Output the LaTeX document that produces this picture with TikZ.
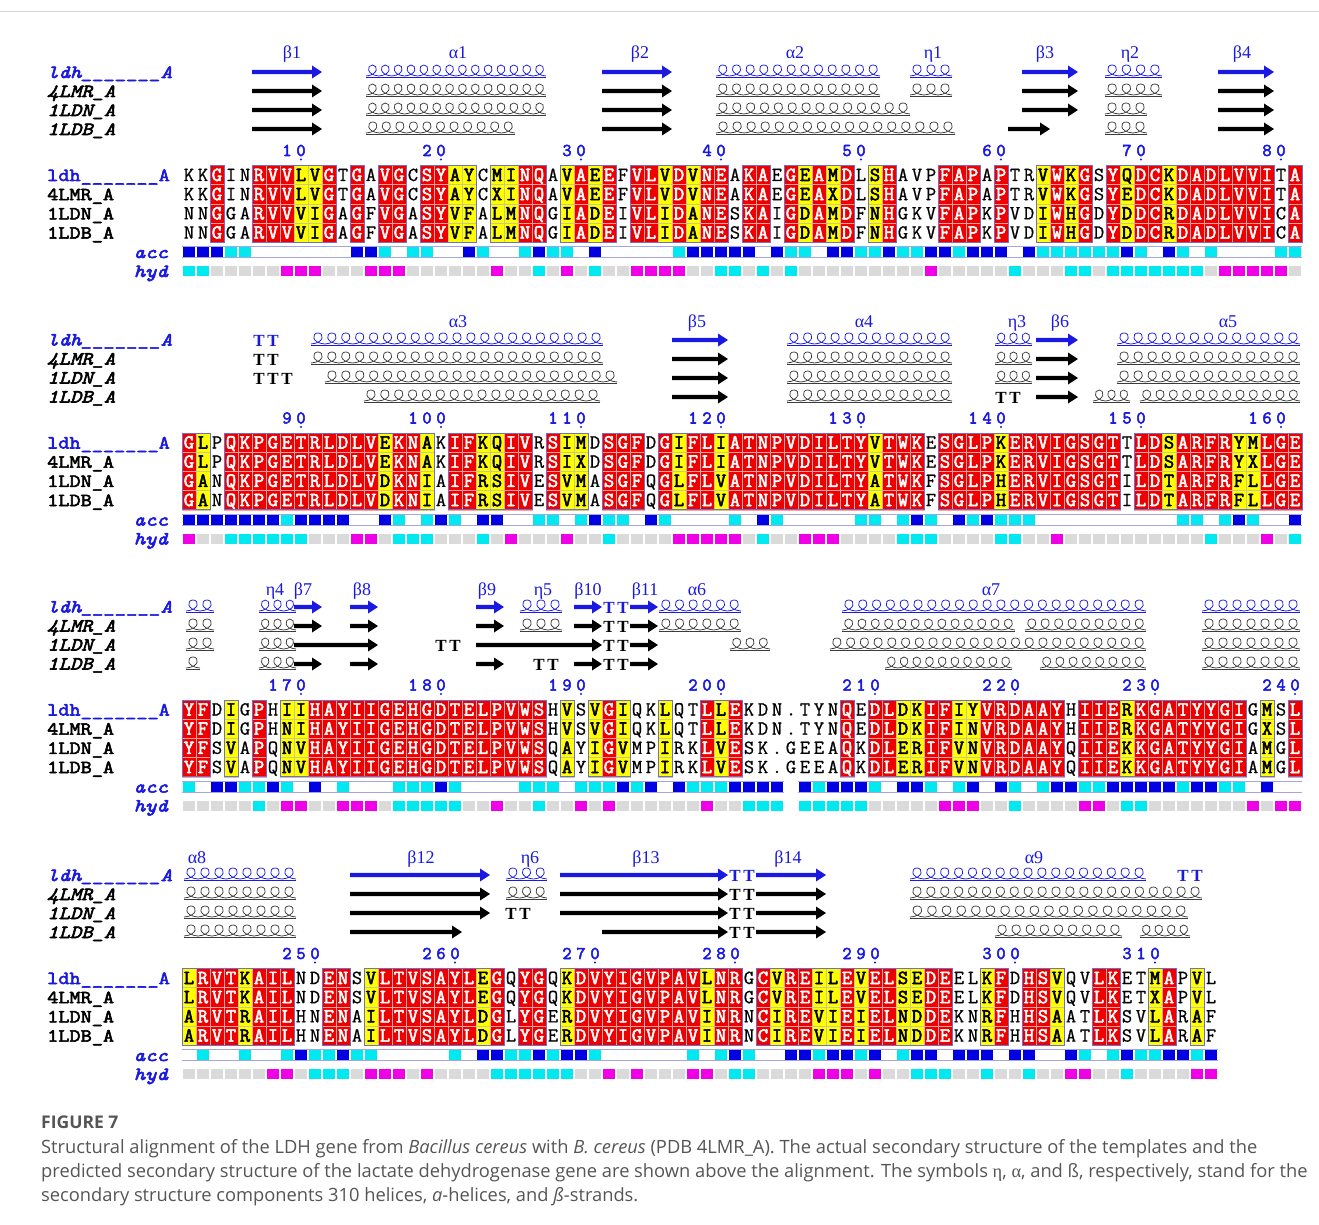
\documentclass[tikz,border=0pt]{standalone}
\usepackage{fontspec}
\setmainfont{Liberation Serif}
\newfontfamily\resfont{Latin Modern Mono}[FakeBold=0.8]
\newfontfamily\resbold{Latin Modern Mono}[FakeBold=2.8]
\newfontfamily\namefont{Latin Modern Mono}[FakeBold=3,FakeStretch=1.17]
\newfontfamily\capfont{Open Sans}
\newfontfamily\grfont{Liberation Serif}
\definecolor{espred}{RGB}{238,0,0}
\definecolor{espredline}{RGB}{255,160,160}
\definecolor{espyellow}{RGB}{255,255,0}
\definecolor{espyline}{RGB}{200,200,150}
\definecolor{espframe}{RGB}{110,110,205}
\definecolor{espblue}{RGB}{25,25,225}
\definecolor{accdark}{RGB}{0,0,225}
\definecolor{acccyan}{RGB}{0,232,240}
\definecolor{hydmag}{RGB}{240,0,230}
\definecolor{hydgray}{RGB}{218,218,218}
\definecolor{accline}{RGB}{165,165,228}
\definecolor{capgray}{RGB}{85,85,85}
\definecolor{ssk}{RGB}{0,0,0}
\definecolor{sshel}{RGB}{60,60,60}
\definecolor{topline}{RGB}{212,212,212}
\tikzset{
  resR/.style={anchor=base,inner sep=0pt,text=white,font=\resbold\fontsize{20}{20}\selectfont},
  resY/.style={anchor=base,inner sep=0pt,text=black,font=\resbold\fontsize{20}{20}\selectfont},
  resW/.style={anchor=base,inner sep=0pt,text=black,font=\resfont\fontsize{20}{20}\selectfont},
  numf/.style={anchor=base,inner sep=0pt,text=espblue,font=\resbold\fontsize{18}{18}\selectfont},
  namef/.style={anchor=base west,inner sep=0pt,text=black,font=\namefont\fontsize{18.5}{18.5}\selectfont},
  namei/.style={anchor=base west,inner sep=0pt,text=black,font=\namefont\itshape\fontsize{18.5}{18.5}\selectfont},
  rowlab/.style={anchor=base east,inner sep=0pt,text=espblue,font=\namefont\itshape\fontsize{18.5}{18.5}\selectfont},
  sslab/.style={anchor=base,inner sep=0pt,text=espblue,font=\grfont\fontsize{18}{18}\selectfont},
  turnf/.style={anchor=base,inner sep=0pt,font=\grfont\bfseries\fontsize{17}{17}\selectfont},
  runframe/.style={draw=espframe,line width=0.7pt},
  accl/.style={draw=accline,line width=0.6pt},
  capf/.style={anchor=base west,inner sep=0pt,text=capgray,font=\capfont\fontsize{18.3}{18.3}\selectfont}
}
\makeatletter
\newcount\colc \newcount\runst \newcount\nid
\def\chr{r}\def\chy{y}\def\chb{b}\def\chc{c}\def\chm{m}\def\chg{g}\def\chgap{-}
\newcommand\nnode{\global\advance\nid by 1 \edef\tmpn{\noexpand\node(n\the\nid)}\tmpn}
\newcommand\setmap[1]{\colc=0 \@tfor\mc:=#1\do{\advance\colc by 1 \expandafter\let\csname cls@\the\colc\endcsname\mc}}
\newcommand\drawmap[2]{%
  \colc=0 \runst=0
  \@tfor\mc:=#1\do{%
    \advance\colc by 1
    \edef\xl{\the\numexpr168+14*\colc\relax}%
    \edef\xr{\the\numexpr182+14*\colc\relax}%
    \ifx\mc\chr \def\cfill{espred}\def\cdraw{espredline}%
    \else\ifx\mc\chy \def\cfill{espyellow}\def\cdraw{espyline}%
    \else \def\cfill{}\fi\fi
    \ifx\cfill\empty
      \ifnum\runst>0
        \edef\fa{\the\numexpr168+14*\runst\relax}%
        \edef\fb{\the\numexpr168+14*\colc\relax}%
        \draw[runframe] ({\fa},{#2-9.6}) rectangle ({\fb},{#2+67.2});%
        \runst=0
      \fi
    \else
      \foreach \k in {0,1,2,3}{\filldraw[fill=\cfill,draw=\cdraw,line width=0.4pt] ({\xl},{#2+19.2*\k-9.6}) rectangle ({\xr},{#2+19.2*\k+9.6});}%
      \ifnum\runst=0 \runst=\colc\fi
    \fi
  }%
  \ifnum\runst>0
    \edef\fa{\the\numexpr168+14*\runst\relax}%
    \edef\fb{\the\numexpr182+14*\colc\relax}%
    \draw[runframe] ({\fa},{#2-9.6}) rectangle ({\fb},{#2+67.2});%
  \fi
}
\newcommand\seqrow[2]{%
  \colc=0
  \@tfor\rch:=#1\do{%
    \advance\colc by 1
    \expandafter\let\expandafter\rcl\csname cls@\the\colc\endcsname
    \edef\xc{\the\numexpr175+14*\colc\relax}%
    \ifx\rcl\chr\def\rst{resR}\else\ifx\rcl\chy\def\rst{resY}\else\def\rst{resW}\fi\fi
    \global\advance\nid by 1
    \edef\tmpn{\noexpand\node(n\the\nid)[\rst] at ({\xc},{#2+6})}%
    \tmpn{\rch};%
  }%
}
\newcommand\accrow[2]{%
  \colc=0
  \@tfor\mc:=#1\do{%
    \advance\colc by 1
    \edef\xl{\the\numexpr168+14*\colc\relax}\edef\xr{\the\numexpr182+14*\colc\relax}%
    \ifx\mc\chgap\else
      \ifx\mc\chb \fill[accdark] ({\xl+0.6},{#2-5.5}) rectangle ({\xr-0.6},{#2+5.5});\fi
      \ifx\mc\chc \fill[acccyan] ({\xl+0.6},{#2-5.5}) rectangle ({\xr-0.6},{#2+5.5});\fi
      \draw[accl] ({\xl},{#2-5.5}) -- ({\xr},{#2-5.5}) ({\xl},{#2+5.5}) -- ({\xr},{#2+5.5});
    \fi
  }%
}
\newcommand\hydrow[2]{%
  \colc=0
  \@tfor\mc:=#1\do{%
    \advance\colc by 1
    \edef\xl{\the\numexpr168+14*\colc\relax}\edef\xr{\the\numexpr182+14*\colc\relax}%
    \ifx\mc\chgap\else
      \ifx\mc\chm\def\hcol{hydmag}\else\ifx\mc\chc\def\hcol{acccyan}\else\def\hcol{hydgray}\fi\fi
      \fill[fill=\hcol] ({\xl+0.8},{#2-5}) rectangle ({\xr-0.8},{#2+5});
    \fi
  }%
}
\newcommand\numl[3]{%
  \colc=0 \@tfor\mc:=#1\do{\advance\colc by 1}%
  \runst=\numexpr#2-\colc\relax
  \@tfor\mc:=#1\do{\advance\runst by 1 \edef\xc{\the\numexpr175+14*\runst\relax}\nnode[numf] at ({\xc},{#3+5}) {\mc};}%
  \edef\xc{\the\numexpr175+14*#2\relax}\fill[espblue] ({\xc},{#3+8.5}) circle (1.1);
}
\newcommand\sarr[4]{%
  \edef\axa{\the\numexpr168+14*#1\relax}\edef\axb{\the\numexpr182+14*#2\relax}%
  \fill[#4] ({\axa},{#3-2.2}) -- ({\axb-10},{#3-2.2}) -- ({\axb-10},{#3-6.5}) -- ({\axb},{#3}) -- ({\axb-10},{#3+6.5}) -- ({\axb-10},{#3+2.2}) -- ({\axa},{#3+2.2}) -- cycle;
}
\newcommand\shel[5]{%
  \pgfmathsetmacro\hw{(#2-#1)/#3}%
  \foreach \k in {1,...,#3}{%
    \pgfmathsetmacro\hc{#1+(\k-0.5)*\hw}%
    \draw[#5,line width=0.75pt] ({\hc-0.5*\hw},{#4+4}) .. controls ({\hc+0.5*\hw},{#4+3}) and ({\hc+0.45*\hw},{#4-7}) .. ({\hc},{#4-7}) .. controls ({\hc-0.45*\hw},{#4-7}) and ({\hc-0.5*\hw},{#4+3}) .. ({\hc+0.5*\hw},{#4+4});
  }%
  \draw[#5,line width=0.5pt] ({#1},{#4+5.5}) -- ({#2},{#4+5.5});
}
\newcommand\stt[3]{\edef\xc{\the\numexpr175+14*#1\relax}\nnode[turnf,text=#3] at ({\xc},{#2+6}) {T};}
\newcommand\names[1]{%
  \nnode[namei,text=espblue] at (47,{#1-103+6}) {ldh\_\_\_\_\_\_\_A};
  \nnode[namei] at (47,{#1-84+6}) {4LMR\_A};
  \nnode[namei] at (47,{#1-65+6}) {1LDN\_A};
  \nnode[namei] at (47,{#1-46+6}) {1LDB\_A};
  \nnode[namef,text=espblue] at (47,{#1+6}) {ldh\_\_\_\_\_\_\_A};
  \nnode[namef] at (47,{#1+19.2+6}) {4LMR\_A};
  \nnode[namef] at (47,{#1+38.4+6}) {1LDN\_A};
  \nnode[namef] at (47,{#1+57.6+6}) {1LDB\_A};
  \nnode[rowlab] at (168,{#1+77+6}) {acc};
  \nnode[rowlab] at (168,{#1+96+6}) {hyd};
}
\newcommand\block[8]{%
  \setmap{#2}\drawmap{#2}{#1}%
  \seqrow{#3}{#1}\seqrow{#4}{#1+19.2}\seqrow{#5}{#1+38.4}\seqrow{#6}{#1+57.6}%
  \accrow{#7}{#1+77}\hydrow{#8}{#1+96}%
  \names{#1}%
}
\makeatother
\begin{document}
\begin{tikzpicture}[x=1pt,y=-1pt]
\fill[white] (0,0) rectangle (1319,1225);
\useasboundingbox (0,0) rectangle (1319,1225);
\draw[topline,line width=1pt] (0,12) -- (1319,12);

% ---------------- Block 1
\block{175}{..r..rrryy r.r.rr.rry y.yyrr.yry r.rryryrr. rr.ryryr.y r...rrr.r. .yryr.ryrr yrrrrrrr.r}
{KKGINRVVLV GTGAVGCSYA YCMINQAVAE EFVLVDVNEA KAEGEAMDLS HAVPFAPAPT RVWKGSYQDC KDADLVVITA}
{KKGINRVVLV GTGAVGCSYA YCXINQAVAE EFVLVDVNEA KAEGEAXDLS HAVPFAPAPT RVWKGSYEDC KDADLVVITA}
{NNGGARVVVI GAGFVGASYV FALMNQGIAD EIVLIDANES KAIGDAMDFN HGKVFAPKPV DIWHGDYDDC RDADLVVICA}
{NNGGARVVVI GAGFVGASYV FALMNQGIAD EIVLIDANES KAIGDAMDFN HGKVFAPKPV DIWHGDYDDC RDADLVVICA}
{bbbcc..... ..bbc.cc.. bc..cbcc.b .....cbbbb b.bcc.bbcc bccbbcbbb. bccccccbc. bc.c....cc}
{ccgggggmmm gggmmmgggg ggmggcgmgc ggmmmmggcc gcgcgggggg gggmgggggc gggccgcccc cccgmmmmmg}
\numl{10}{9}{151}\numl{20}{19}{151}\numl{30}{29}{151}\numl{40}{39}{151}
\numl{50}{49}{151}\numl{60}{59}{151}\numl{70}{69}{151}\numl{80}{79}{151}
\nnode[sslab] at (292,59) {β1};\nnode[sslab] at (458,59) {α1};\nnode[sslab] at (640,59) {β2};
\nnode[sslab] at (795,59) {α2};\nnode[sslab] at (933,59) {η1};\nnode[sslab] at (1045,59) {β3};
\nnode[sslab] at (1130,59) {η2};\nnode[sslab] at (1242,59) {β4};
\sarr{6}{10}{72}{espblue}\shel{366}{546}{14}{72}{espblue}\sarr{31}{35}{72}{espblue}
\shel{716}{880}{12}{72}{espblue}\shel{910}{952}{3}{72}{espblue}\sarr{61}{64}{72}{espblue}
\shel{1105}{1162}{4}{72}{espblue}\sarr{75}{78}{72}{espblue}
\sarr{6}{10}{91}{ssk}\shel{366}{546}{14}{91}{sshel}\sarr{31}{35}{91}{ssk}
\shel{716}{880}{12}{91}{sshel}\shel{910}{952}{3}{91}{sshel}\sarr{61}{64}{91}{ssk}
\shel{1105}{1162}{4}{91}{sshel}\sarr{75}{78}{91}{ssk}
\sarr{6}{10}{110}{ssk}\shel{366}{546}{14}{110}{sshel}\sarr{31}{35}{110}{ssk}
\shel{716}{910}{14}{110}{sshel}\sarr{61}{64}{110}{ssk}
\shel{1105}{1147}{3}{110}{sshel}\sarr{75}{78}{110}{ssk}
\sarr{6}{10}{129}{ssk}\shel{366}{515}{11}{129}{sshel}\sarr{31}{35}{129}{ssk}
\shel{716}{955}{17}{129}{sshel}\sarr{60}{62}{129}{ssk}
\shel{1105}{1147}{3}{129}{sshel}\sarr{75}{78}{129}{ssk}

% ---------------- Block 2
\block{442.5}{ry.rrrrrrr rrrryrry.r ryyrr.ryy. rrr.ryrryr rrrrrrrrry rrr.rrrryr rrrrrrr.rr yrrrryyrrr}
{GLPQKPGETR LDLVEKNAKI FKQIVRSIMD SGFDGIFLIA TNPVDILTYV TWKESGLPKE RVIGSGTTLD SARFRYMLGE}
{GLPQKPGETR LDLVEKNAKI FKQIVRSIXD SGFDGIFLIA TNPVDILTYV TWKESGLPKE RVIGSGTTLD SARFRYXLGE}
{GANQKPGETR LDLVDKNIAI FRSIVESVMA SGFQGLFLVA TNPVDILTYA TWKFSGLPHE RVIGSGTILD TARFRFLLGE}
{GANQKPGETR LDLVDKNIAI FRSIVESVMA SGFQGLFLVA TNPVDILTYA TWKFSGLPHE RVIGSGTILD TARFRFLLGE}
{bbbbbbbcbb bb..bc.cbc .bb..cc.cb cc.bc....c .bc.....cc .cbc.bcbcc c......... .cc.cbc..b}
{mggccccccg ggmmgcccgg gcgmgggmgg cggggmmmmm gcggmmmggg gcccggggcc ggmggggggg gggcgggmgc}
\numl{90}{9}{418.5}\numl{100}{19}{418.5}\numl{110}{29}{418.5}\numl{120}{39}{418.5}
\numl{130}{49}{418.5}\numl{140}{59}{418.5}\numl{150}{69}{418.5}\numl{160}{79}{418.5}
\nnode[sslab] at (458,327) {α3};\nnode[sslab] at (697,327) {β5};\nnode[sslab] at (864,327) {α4};
\nnode[sslab] at (1017,327) {η3};\nnode[sslab] at (1060,327) {β6};\nnode[sslab] at (1228,327) {α5};
\stt{6}{340}{espblue}\stt{7}{340}{espblue}\shel{311}{603}{21}{340}{espblue}\sarr{36}{39}{340}{espblue}
\shel{787}{952}{12}{340}{espblue}\shel{995}{1032}{3}{340}{espblue}\sarr{62}{64}{340}{espblue}
\shel{1117}{1300}{13}{340}{espblue}
\stt{6}{359}{ssk}\stt{7}{359}{ssk}\shel{311}{603}{21}{359}{sshel}\sarr{36}{39}{359}{ssk}
\shel{787}{952}{12}{359}{sshel}\shel{995}{1032}{3}{359}{sshel}\sarr{62}{64}{359}{ssk}
\shel{1117}{1300}{13}{359}{sshel}
\stt{6}{378}{ssk}\stt{7}{378}{ssk}\stt{8}{378}{ssk}\shel{325}{617}{21}{378}{sshel}\sarr{36}{39}{378}{ssk}
\shel{787}{952}{12}{378}{sshel}\shel{995}{1032}{3}{378}{sshel}\sarr{62}{64}{378}{ssk}
\shel{1117}{1300}{13}{378}{sshel}
\shel{364}{600}{17}{397}{sshel}\sarr{36}{39}{397}{ssk}\shel{787}{952}{12}{397}{sshel}
\stt{59}{397}{ssk}\stt{60}{397}{ssk}\sarr{62}{64}{397}{ssk}
\shel{1093}{1130}{3}{397}{sshel}\shel{1140}{1300}{12}{397}{sshel}

% ---------------- Block 3
\block{709.5}{rr.y.r.yyr rrrrrrrrrr rrrrrr.y.y ry..y..ryr .......r.r ryyrryyrrr rrr.rrryrr rrrrrr.y.r}
{YFDIGPHIIH AYIIGEHGDT ELPVWSHVSV GIQKLQTLLE KDN.TYNQED LDKIFIYVRD AAYHIIERKG ATYYGIGMSL}
{YFDIGPHNIH AYIIGEHGDT ELPVWSHVSV GIQKLQTLLE KDN.TYNQED LDKIFINVRD AAYHIIERKG ATYYGIGXSL}
{YFSVAPQNVH AYIIGEHGDT ELPVWSQAYI GVMPIRKLVE SK.GEEAQKD LERIFVNVRD AAYQIIEKKG ATYYGIAMGL}
{YFSVAPQNVH AYIIGEHGDT ELPVWSQAYI GVMPIRKLVE SK.GEEAQKD LERIFVNVRD AAYQIIEKKG ATYYGIAMGL}
{c.bbccbc.b .c...cccbc ....ccc.cc cbcb.bcccb bbb-bcbbbc .bbc.cb.bc .cbbccbbbb bcbbcc.b..}
{gggggcgmmg gmmmgccccc ggmggcggmg mggggggmgg ccc-cccccg ggggmmmggc ggggmmgccg ggggggmgmm}
\numl{170}{9}{685.5}\numl{180}{19}{685.5}\numl{190}{29}{685.5}\numl{200}{39}{685.5}
\numl{210}{50}{685.5}\numl{220}{60}{685.5}\numl{230}{70}{685.5}\numl{240}{80}{685.5}
\nnode[sslab] at (275,595) {η4};\nnode[sslab] at (303,595) {β7};\nnode[sslab] at (362,595) {β8};
\nnode[sslab] at (487,595) {β9};\nnode[sslab] at (543,595) {η5};\nnode[sslab] at (588,595) {β10};
\nnode[sslab] at (645,595) {β11};\nnode[sslab] at (697,595) {α6};\nnode[sslab] at (991,595) {α7};
\shel{186}{214}{2}{607}{espblue}\shel{259}{296}{3}{607}{espblue}\sarr{9}{10}{607}{espblue}
\sarr{13}{14}{607}{espblue}\sarr{22}{23}{607}{espblue}\shel{520}{562}{3}{607}{espblue}
\sarr{29}{30}{607}{espblue}\stt{31}{607}{espblue}\stt{32}{607}{espblue}\sarr{33}{34}{607}{espblue}
\shel{659}{741}{6}{607}{espblue}\shel{842}{1146}{22}{607}{espblue}\shel{1202}{1300}{7}{607}{espblue}
\shel{186}{214}{2}{626}{sshel}\shel{259}{296}{3}{626}{sshel}\sarr{9}{10}{626}{ssk}
\sarr{13}{14}{626}{ssk}\sarr{22}{23}{626}{ssk}\shel{520}{562}{3}{626}{sshel}
\sarr{29}{30}{626}{ssk}\stt{31}{626}{ssk}\stt{32}{626}{ssk}\sarr{33}{34}{626}{ssk}
\shel{659}{741}{6}{626}{sshel}\shel{842}{1015}{13}{626}{sshel}\shel{1025}{1146}{9}{626}{sshel}
\shel{1202}{1300}{7}{626}{sshel}
\shel{186}{214}{2}{645}{sshel}\shel{259}{296}{3}{645}{sshel}\sarr{9}{14}{645}{ssk}
\stt{19}{645}{ssk}\stt{20}{645}{ssk}\sarr{22}{30}{645}{ssk}\stt{31}{645}{ssk}\stt{32}{645}{ssk}
\sarr{33}{34}{645}{ssk}\shel{730}{770}{3}{645}{sshel}\shel{830}{1146}{23}{645}{sshel}
\shel{1202}{1300}{7}{645}{sshel}
\shel{186}{200}{1}{664}{sshel}\shel{259}{296}{3}{664}{sshel}\sarr{9}{10}{664}{ssk}
\sarr{13}{14}{664}{ssk}\sarr{22}{23}{664}{ssk}\stt{26}{664}{ssk}\stt{27}{664}{ssk}
\sarr{29}{30}{664}{ssk}\stt{31}{664}{ssk}\stt{32}{664}{ssk}\sarr{33}{34}{664}{ssk}
\shel{885}{1012}{10}{664}{sshel}\shel{1040}{1146}{8}{664}{sshel}\shel{1202}{1300}{7}{664}{sshel}

% ---------------- Block 4
\block{978}{yrrryrrr.. rr.yrrrrrr ryr.rr.yrr rrrrrrryrr .ryrryyryr ryyrr..yr. rry..rr..y r.y.}
{LRVTKAILND ENSVLTVSAY LEGQYGQKDV YIGVPAVLNR GCVREILEVE LSEDEELKFD HSVQVLKETM APVL}
{LRVTKAILND ENSVLTVSAY LEGQYGQKDV YIGVPAVLNR GCVREILEVE LSEDEELKFD HSVQVLKETX APVL}
{ARVTRAILHN ENAILTVSAY LDGLYGERDV YIGVPAVINR NCIREVIEIE LNDDEKNRFH HSAATLKSVL ARAF}
{ARVTRAILHN ENAILTVSAY LDGLYGERDV YIGVPAVINR NCIREVIEIE LNDDEKNRFH HSAATLKSVL ARAF}
{.c..c..cbc cbcc.....c .bbccbcbbc ......c.cb c..bbcbbcb .cbb.bbb.b b..bc.cbcc bbcb}
{ggggggmmgc ccgmmmgmgg ggccccccgg mgmgggmmgc cggggmmmgm ggcccggcgg cggmmggcgg ggmm}
\numl{250}{10}{954}\numl{260}{20}{954}\numl{270}{30}{954}\numl{280}{40}{954}
\numl{290}{50}{954}\numl{300}{60}{954}\numl{310}{70}{954}
\nnode[sslab] at (197,863) {α8};\nnode[sslab] at (421,863) {β12};\nnode[sslab] at (530,863) {η6};
\nnode[sslab] at (646,863) {β13};\nnode[sslab] at (788,863) {β14};\nnode[sslab] at (1034,863) {α9};
\shel{184}{296}{8}{875}{espblue}\sarr{13}{22}{875}{espblue}\shel{506}{547}{3}{875}{espblue}
\sarr{28}{39}{875}{espblue}\stt{40}{875}{espblue}\stt{41}{875}{espblue}\sarr{42}{46}{875}{espblue}
\shel{910}{1146}{17}{875}{espblue}\stt{72}{875}{espblue}\stt{73}{875}{espblue}
\shel{184}{296}{8}{894}{sshel}\sarr{13}{22}{894}{ssk}\shel{506}{547}{3}{894}{sshel}
\sarr{28}{39}{894}{ssk}\stt{40}{894}{ssk}\stt{41}{894}{ssk}\sarr{42}{46}{894}{ssk}
\shel{910}{1202}{21}{894}{sshel}
\shel{184}{296}{8}{913}{sshel}\sarr{13}{22}{913}{ssk}\stt{24}{913}{ssk}\stt{25}{913}{ssk}
\sarr{28}{39}{913}{ssk}\stt{40}{913}{ssk}\stt{41}{913}{ssk}\sarr{42}{46}{913}{ssk}
\shel{910}{1188}{19}{913}{sshel}
\shel{184}{296}{8}{932}{sshel}\sarr{13}{20}{932}{ssk}\sarr{31}{39}{932}{ssk}
\stt{40}{932}{ssk}\stt{41}{932}{ssk}\sarr{42}{46}{932}{ssk}
\shel{995}{1122}{9}{932}{sshel}\shel{1140}{1190}{4}{932}{sshel}

% ---------------- Caption
\nnode[capf,font=\capfont\bfseries\fontsize{17.5}{17.5}\selectfont] at (41,1128) {FIGURE 7};
\nnode[capf] at (41,1153) {Structural alignment of the LDH gene from \textit{Bacillus cereus} with \textit{B. cereus} (PDB 4LMR\_A). The actual secondary structure of the templates and the};
\nnode[capf] at (41,1177) {predicted secondary structure of the lactate dehydrogenase gene are shown above the alignment. The symbols {\grfont η}, {\grfont α}, and ß, respectively, stand for the};
\nnode[capf] at (41,1201) {secondary structure components 310 helices, \textit{a}-helices, and \textit{ß}-strands.};
\end{tikzpicture}
\end{document}
